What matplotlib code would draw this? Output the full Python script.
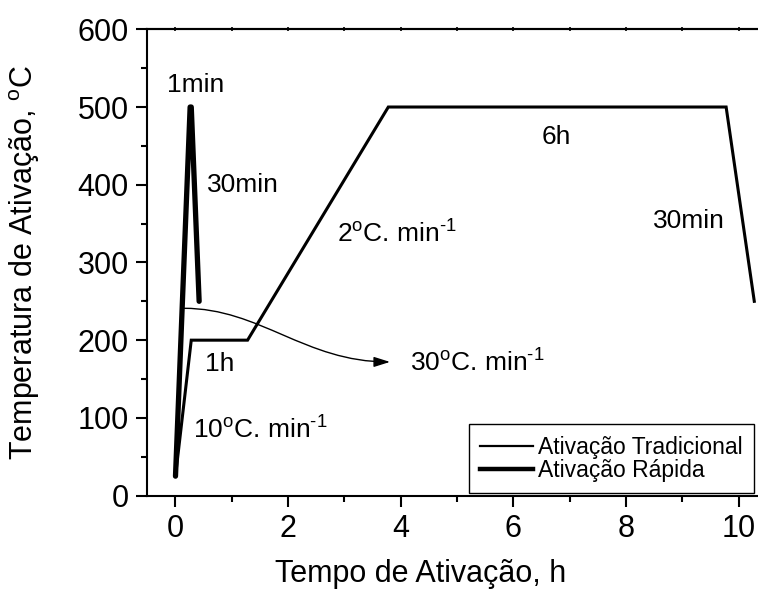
import matplotlib
matplotlib.use("Agg")
import matplotlib.pyplot as plt
from matplotlib.lines import Line2D
from matplotlib.patches import FancyArrowPatch
from matplotlib.path import Path
from matplotlib.ticker import MultipleLocator

plt.rcParams['font.family'] = ['Liberation Sans', 'DejaVu Sans']
plt.rcParams['mathtext.fontset'] = 'custom'
plt.rcParams['mathtext.rm'] = 'Liberation Sans'
plt.rcParams['mathtext.it'] = 'Liberation Sans:italic'

# traditional activation: 10C/min to 200, hold 1h, 2C/min to 500, hold 6h, 30min down
trad_t = [0.0, 0.28, 1.28, 3.78, 9.78, 10.28]
trad_T = [25, 200, 200, 500, 500, 250]

# rapid activation
rap_t = [0.0, 0.26, 0.28, 0.42]
rap_T = [25, 500, 500, 250]

xlim = (-0.506, 10.346)
ylim = (0, 600)

# annotation texts (x, y, text, ha)
notes = [
    (0.36, 528, "1min", "center"),
    (0.56, 400, "30min", "left"),
    (0.52, 169, "1h", "left"),
    (0.31, 84, r"10$^{\rm o}$C. min$^{\text{-1}}$", "left"),
    (2.87, 337, r"2$^{\rm o}$C. min$^{\text{-1}}$", "left"),
    (6.76, 462, "6h", "center"),
    (9.12, 353, "30min", "center"),
    (4.17, 171, r"30$^{\rm o}$C. min$^{\text{-1}}$", "left"),
]

arrow_start = (0.15, 241)
arrow_end = (3.81, 172)

fig = plt.figure(figsize=(7.58, 5.94), dpi=100)
ax = fig.add_axes([147 / 758, 98.4 / 594, 611 / 758, 466.3 / 594])

ax.plot(trad_t, trad_T, color='black', lw=2.2, solid_joinstyle='miter')
ax.plot(rap_t, rap_T, color='black', lw=3.8, solid_capstyle='round',
        solid_joinstyle='round')

ax.set_xlim(*xlim)
ax.set_ylim(*ylim)
ax.xaxis.set_major_locator(MultipleLocator(2))
ax.xaxis.set_minor_locator(MultipleLocator(1))
ax.yaxis.set_major_locator(MultipleLocator(100))
ax.yaxis.set_minor_locator(MultipleLocator(50))
ax.tick_params(which='major', direction='out', length=8, width=1.5,
               labelsize=22, pad=5)
ax.tick_params(which='minor', direction='out', length=4.5, width=1.5)
for s in ['left', 'bottom', 'top']:
    ax.spines[s].set_linewidth(1.5)
ax.spines['right'].set_visible(False)

top = ax.secondary_xaxis('top')
top.xaxis.set_major_locator(MultipleLocator(1))
top.tick_params(which='major', direction='inout', length=3, width=1.2,
                labelbottom=False, labeltop=False)
top.spines['top'].set_linewidth(1.5)

ax.set_xlabel("Tempo de Ativação, h", fontsize=22)
ax.set_ylabel(r"Temperatura de Ativação, $^{\rm o}$C", fontsize=22)
ax.xaxis.set_label_coords(0.448, -0.135)
ax.yaxis.set_label_coords(-0.172, 0.5)

for x, y, txt, ha in notes:
    ax.text(x, y, txt, fontsize=19, ha=ha, va='center')

# curved arrow from rapid curve to its rate label
c1 = (1.5, arrow_start[1])
c2 = (2.3, arrow_end[1])
path = Path([arrow_start, c1, c2, arrow_end],
            [Path.MOVETO, Path.CURVE4, Path.CURVE4, Path.CURVE4])
arr = FancyArrowPatch(path=path, arrowstyle='-|>,head_length=0.7,head_width=0.22',
                      mutation_scale=14, color='black', lw=1.0)
ax.add_patch(arr)

handles = [Line2D([], [], color='black', lw=1.6),
           Line2D([], [], color='black', lw=3.2)]
leg = ax.legend(handles, ["Ativação Tradicional", "Ativação Rápida"],
                loc='lower left', bbox_to_anchor=(469 / 758, 101 / 594),
                bbox_transform=fig.transFigure, fontsize=16.5,
                frameon=True, fancybox=False, framealpha=1, edgecolor='black',
                handlelength=2.3, handletextpad=0.2, labelspacing=0.0,
                borderpad=0.5, borderaxespad=0)
leg.get_frame().set_linewidth(1.0)

fig.savefig("out.png", dpi=100)
